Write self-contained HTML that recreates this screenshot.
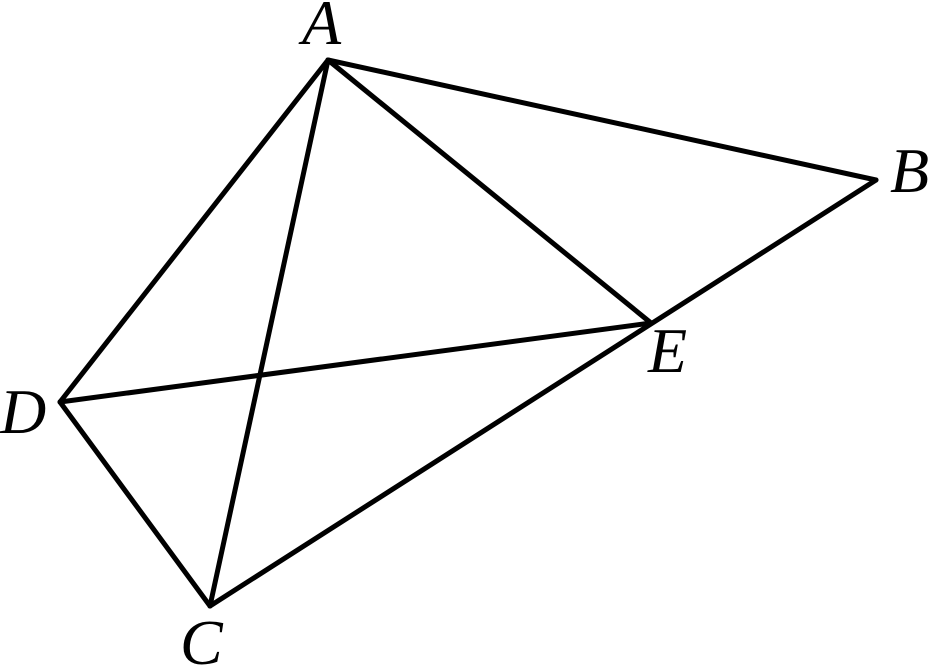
<!DOCTYPE html>
<html><head><meta charset="utf-8"><style>
html,body{margin:0;padding:0;background:#fff;}
svg{display:block;}
text{font-family:"Liberation Serif",serif;font-style:italic;font-size:64px;fill:#000;}
</style></head><body>
<svg width="930" height="666" viewBox="0 0 930 666" xmlns="http://www.w3.org/2000/svg">
<g stroke="#000" stroke-width="5" stroke-linecap="round" stroke-linejoin="round" fill="none">
<line x1="328" y1="60" x2="876" y2="180"/>
<line x1="328" y1="60" x2="60" y2="402"/>
<line x1="328" y1="60" x2="210" y2="606"/>
<line x1="328" y1="60" x2="651" y2="323"/>
<line x1="876" y1="180" x2="210" y2="606"/>
<line x1="60" y1="402" x2="651" y2="323"/>
<line x1="60" y1="402" x2="210" y2="606"/>
</g>
<text x="302" y="44">A</text>
<text x="890" y="192">B</text>
<text x="648" y="372">E</text>
<text x="0" y="433">D</text>
<text x="180" y="664">C</text>
</svg>
</body></html>
